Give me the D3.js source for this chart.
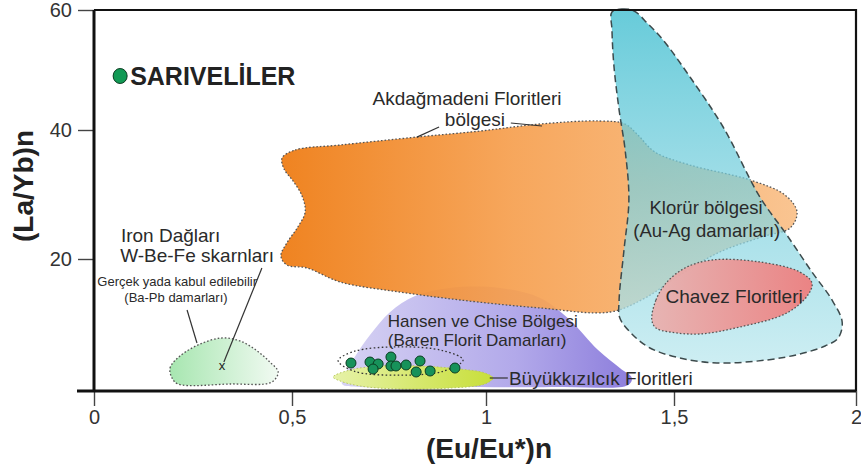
<!DOCTYPE html>
<html>
<head>
<meta charset="utf-8">
<script src="https://cdn.jsdelivr.net/npm/d3@7"></script>
<style>
  html, body { margin: 0; padding: 0; background: #fff; }
  svg { display: block; font-family: "Liberation Sans", Arial, sans-serif; }
</style>
</head>
<body>
<svg id="chart" width="861" height="473"></svg>
<script>
// Axis ticks
const xTicks = [0, 0.5, 1, 1.5, 2];
const xTickLabels = ["0", "0,5", "1", "1,5", "2"];
const yTicks = [0, 20, 40, 60];
const yTickLabels = ["", "20", "40", "60"];

// Field outlines, [(Eu/Eu*)n, (La/Yb)n]
const akdagmadeni = [
  [0.475, 35.66], [0.508, 36.9], [0.624, 37.67], [0.822, 38.91], [0.985, 39.84],
  [1.144, 41.0], [1.303, 41.5], [1.37, 41.0], [1.404, 39.22], [1.449, 36.59],
  [1.544, 34.57], [1.709, 32.25], [1.805, 29.92], [1.838, 27.29], [1.819, 24.81],
  [1.75, 23.57], [1.626, 21.09], [1.516, 17.58], [1.423, 14.09], [1.33, 11.97],
  [1.144, 12.58], [0.933, 13.79], [0.778, 15.0], [0.624, 16.52], [0.539, 18.64],
  [0.487, 19.09], [0.472, 20.47], [0.487, 22.48], [0.515, 24.96], [0.534, 27.29],
  [0.526, 29.77], [0.503, 32.09], [0.48, 33.95]
];
const klorur = [
  [1.335, 59.67], [1.362, 60.17], [1.394, 59.83], [1.431, 57.67], [1.471, 55.0],
  [1.544, 48.83], [1.635, 40.5], [1.736, 29.61], [1.81, 23.72], [1.879, 18.03],
  [1.934, 13.79], [1.962, 10.45], [1.951, 8.03], [1.915, 6.82], [1.846, 5.61],
  [1.755, 4.7], [1.618, 4.24], [1.516, 5.0], [1.436, 6.52], [1.388, 8.64],
  [1.356, 11.06], [1.354, 13.79], [1.367, 21.4], [1.38, 29.15], [1.37, 36.9],
  [1.354, 43.33], [1.34, 50.83], [1.335, 56.67]
];
const chavez = [
  [1.441, 10.76], [1.452, 13.79], [1.479, 16.36], [1.53, 18.64], [1.604, 19.85],
  [1.736, 19.55], [1.846, 18.03], [1.879, 16.36], [1.868, 14.55], [1.81, 11.82],
  [1.681, 9.7], [1.571, 8.64], [1.489, 8.94], [1.452, 9.55]
];
const hansenChise = [
  [0.629, 1.06], [0.639, 2.88], [0.665, 5.45], [0.701, 8.48], [0.753, 11.97],
  [0.817, 14.39], [0.907, 15.61], [1.037, 15.61], [1.144, 14.09], [1.223, 10.76],
  [1.298, 6.21], [1.356, 3.48], [1.388, 1.97], [1.378, 0.91], [1.197, 0.61],
  [0.907, 0.61], [0.675, 0.61]
];
const buyukkizilcik = [
  [0.606, 2.12], [0.649, 3.18], [0.727, 3.79], [0.83, 3.79], [0.933, 3.33],
  [0.997, 2.73], [1.019, 1.97], [0.997, 1.06], [0.907, 0.45], [0.778, 0.3],
  [0.675, 0.76], [0.624, 1.52]
];
const gercekBaPb = [
  [0.197, 1.97], [0.192, 3.48], [0.217, 5.3], [0.268, 7.12], [0.323, 8.03],
  [0.369, 7.58], [0.409, 6.21], [0.444, 4.39], [0.465, 2.88], [0.449, 1.36],
  [0.343, 1.06], [0.212, 1.06]
];
const ironDaglari = [[0.323, 3.79]];

// Sarıveliler fluorite samples
const sariveliler = [
  [0.652, 4.24], [0.701, 4.39], [0.722, 4.09], [0.709, 3.33], [0.755, 5.15],
  [0.755, 3.79], [0.768, 3.79], [0.794, 3.94], [0.82, 2.88], [0.83, 4.55],
  [0.856, 3.03], [0.92, 3.48]
];
const sarivelilerEnvelope = [
  [0.619, 4.6], [0.66, 6.0], [0.778, 6.7], [0.89, 6.1], [0.941, 4.7],
  [0.89, 3.0], [0.778, 2.4], [0.66, 3.0]
];

const svg = d3.select("#chart");
const x = d3.scaleLinear().domain(xTicks).range([94, 292, 486, 674, 856]);
const y = d3.scaleLinear().domain(yTicks).range([391, 259, 130, 10]);

const defs = svg.append("defs");
function grad(id, horizontal, stops) {
  const g = defs.append("linearGradient").attr("id", id)
    .attr("x1", 0).attr("y1", 0)
    .attr("x2", horizontal ? 1 : 0).attr("y2", horizontal ? 0 : 1);
  stops.forEach(s => g.append("stop").attr("offset", s[0])
    .attr("stop-color", s[1]).attr("stop-opacity", s[2] == null ? 1 : s[2]));
}
grad("gOrange", true, [[0, "#ee7a10"], [0.45, "#f6a050"], [1, "#f9c089"]]);
grad("gCyan", false, [[0, "#4cc2d3", 0.85], [0.5, "#7ad0de", 0.72], [1, "#bfe9ef", 0.78]]);
grad("gRed", true, [[0, "#eab0ae"], [1, "#ef7b7b"]]);
grad("gPurple", true, [[0, "#d6d2f3"], [0.6, "#b2a9ea"], [1, "#8d7edc"]]);
grad("gYellow", true, [[0, "#e6f2a8"], [1, "#c8df3a"]]);
grad("gGreen", true, [[0, "#a7e6b0"], [1, "#f1faf2"]]);

const closed = d3.line().x(d => x(d[0])).y(d => y(d[1]))
  .curve(d3.curveCatmullRomClosed.alpha(0.5));

const dotted = { stroke: "#555", "stroke-width": 1.3, "stroke-dasharray": "1.6,2" };
function field(pts, fill, style, opacity) {
  const p = svg.append("path").attr("d", closed(pts)).attr("fill", fill)
    .attr("fill-opacity", opacity == null ? 1 : opacity);
  Object.entries(style).forEach(([k, v]) => p.attr(k, v));
  return p;
}

field(gercekBaPb, "url(#gGreen)", dotted);
field(hansenChise, "url(#gPurple)", { stroke: "none" });
field(buyukkizilcik, "url(#gYellow)", { stroke: "#b8c860", "stroke-width": 1, "stroke-dasharray": "1.5,2" });
field(akdagmadeni, "url(#gOrange)", dotted, 0.93);
field(klorur, "url(#gCyan)", { stroke: "#3c4a4c", "stroke-width": 1.5, "stroke-dasharray": "7,4" });
field(chavez, "url(#gRed)", dotted, 0.92);
field(sarivelilerEnvelope, "none", { stroke: "#333", "stroke-width": 1.3, "stroke-dasharray": "1.6,2.4" });

// Sample points
svg.append("g").selectAll("circle").data(sariveliler).join("circle")
  .attr("cx", d => x(d[0])).attr("cy", d => y(d[1])).attr("r", 5)
  .attr("fill", "#17925a").attr("stroke", "#0c3d22").attr("stroke-width", 1);

// Iron Dağları skarn marker
svg.append("g").selectAll("text").data(ironDaglari).join("text")
  .attr("x", d => x(d[0])).attr("y", d => y(d[1])).attr("dy", "0.32em")
  .attr("text-anchor", "middle").attr("font-size", 13).attr("fill", "#222").text("x");

// Leader lines
const leaders = [
  [[0.235, 12.27], [0.26, 7.27]],
  [[0.424, 18.64], [0.328, 4.39]],
  [[0.879, 40.5], [0.822, 38.9]],
  [[1.066, 41.17], [1.149, 40.67]],
  [[1.01, 1.97], [1.058, 1.97]]
];
svg.append("g").selectAll("line").data(leaders).join("line")
  .attr("x1", d => x(d[0][0])).attr("y1", d => y(d[0][1]))
  .attr("x2", d => x(d[1][0])).attr("y2", d => y(d[1][1]))
  .attr("stroke", "#333").attr("stroke-width", 1.2);

// Field labels
const labels = [
  { t: "Iron Dağları", p: [0.068, 22.6], a: "start", s: 19 },
  { t: "W-Be-Fe skarnları", p: [0.066, 19.55], a: "start", s: 19 },
  { t: "Gerçek yada kabul edilebilir", p: [0.21, 15.9], a: "middle", s: 13 },
  { t: "(Ba-Pb damarları)", p: [0.207, 13.5], a: "middle", s: 13 },
  { t: "Akdağmadeni Floritleri", p: [0.951, 44.17], a: "middle", s: 19 },
  { t: "bölgesi", p: [0.894, 40.67], a: "start", s: 19 },
  { t: "Hansen ve Chise Bölgesi", p: [0.747, 9.7], a: "start", s: 17 },
  { t: "(Baren Florit Damarları)", p: [0.747, 6.82], a: "start", s: 17 },
  { t: "Klorür bölgesi", p: [1.588, 26.98], a: "middle", s: 18.5 },
  { t: "(Au-Ag damarları)", p: [1.59, 23.41], a: "middle", s: 18.5 },
  { t: "Chavez Floritleri", p: [1.665, 13.33], a: "middle", s: 19 },
  { t: "Büyükkızılcık Floritleri", p: [1.061, 0.91], a: "start", s: 19 }
];
svg.append("g").selectAll("text").data(labels).join("text")
  .attr("x", d => x(d.p[0])).attr("y", d => y(d.p[1]))
  .attr("text-anchor", d => d.a).attr("font-size", d => d.s)
  .attr("fill", "#2a2a2a").text(d => d.t);

// Legend
const legend = [{ t: "SARIVELİLER", p: [0.066, 49.0] }];
const lg = svg.append("g").selectAll("g").data(legend).join("g");
lg.append("ellipse").attr("cx", d => x(d.p[0])).attr("cy", d => y(d.p[1]))
  .attr("rx", 7).attr("ry", 7.5).attr("fill", "#129a55").attr("stroke", "#0b3b20").attr("stroke-width", 1);
lg.append("text").attr("x", d => x(d.p[0]) + 10).attr("y", d => y(d.p[1])).attr("dy", "0.36em")
  .attr("font-size", 25).attr("font-weight", "bold").attr("fill", "#222").text(d => d.t);

// Axes
const fmtX = i => xTickLabels[i];
const xAxis = svg.append("g").attr("transform", `translate(0,${y(0)})`)
  .call(d3.axisBottom(x).tickValues(xTicks).tickSize(15).tickPadding(4)
    .tickFormat((d, i) => fmtX(i)));
const yAxis = svg.append("g").attr("transform", `translate(${x(0)},0)`)
  .call(d3.axisLeft(y).tickValues(yTicks.slice(1)).tickSize(16).tickPadding(6)
    .tickFormat((d, i) => yTickLabels[i + 1]));
[xAxis, yAxis].forEach(a => {
  a.select(".domain").remove();
  a.selectAll(".tick line").attr("stroke", "#444").attr("stroke-width", 1.4);
  a.selectAll(".tick text").attr("font-size", 20).attr("fill", "#333")
    .attr("font-family", "'Liberation Sans', Arial, sans-serif");
});

// Frame
const frame = svg.append("g").attr("stroke", "#111").attr("fill", "none");
frame.append("path").attr("stroke-width", 2.2)
  .attr("d", `M${x(0)},${y(60)}H${x(2)}V${y(0)}`);
frame.append("path").attr("stroke-width", 3)
  .attr("d", `M${x(0)},${y(60)}V${y(0)}`);
frame.append("path").attr("stroke-width", 3)
  .attr("d", `M${x(0) - 17},${y(0)}H${x(2)}`);

// Axis titles
svg.append("text").attr("x", x(1) + 3).attr("y", 458).attr("text-anchor", "middle")
  .attr("font-size", 28).attr("font-weight", "bold").attr("fill", "#222").text("(Eu/Eu*)n");
svg.append("text").attr("transform", "translate(33,186) rotate(-90)").attr("text-anchor", "middle")
  .attr("font-size", 28).attr("font-weight", "bold").attr("fill", "#222").text("(La/Yb)n");
</script>
</body>
</html>
